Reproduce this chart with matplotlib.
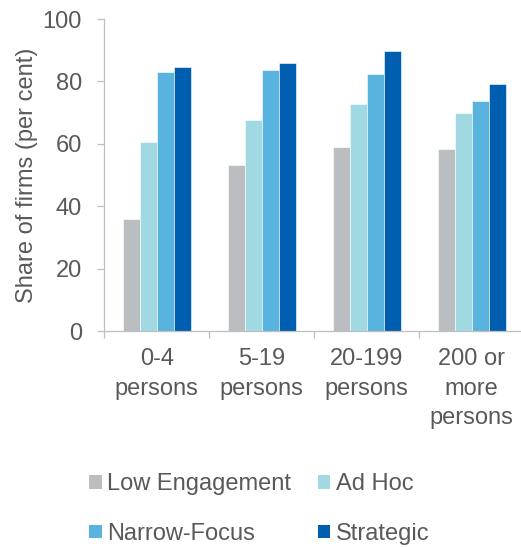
import matplotlib
matplotlib.use("Agg")
import matplotlib.pyplot as plt
from matplotlib.patches import Patch
import numpy as np

plt.rcParams['font.family'] = ['Liberation Sans', 'DejaVu Sans']

categories = ["0-4\npersons", "5-19\npersons", "20-199\npersons", "200 or\nmore\npersons"]
series_names = ["Low Engagement", "Ad Hoc", "Narrow-Focus", "Strategic"]
low_engagement = [35.9, 53.4, 59.0, 58.4]
ad_hoc = [60.6, 67.6, 72.9, 70.0]
narrow_focus = [83.1, 83.8, 82.5, 73.9]
strategic = [84.7, 86.0, 89.8, 79.3]
y_ticks = [0, 20, 40, 60, 80, 100]

colors = ["#BBBEC1", "#A0D9E1", "#58B3DF", "#005EB0"]
text_color = "#595959"
axis_color = "#BFBFBF"
fs = 17

fig = plt.figure(figsize=(5.21, 5.47), dpi=100)
ax = fig.add_axes([104.3 / 521, 215.7 / 547, 420 / 521, 312.3 / 547])

x = np.arange(len(categories))
w = 17 / 105
all_series = [low_engagement, ad_hoc, narrow_focus, strategic]
for i, (vals, col) in enumerate(zip(all_series, colors)):
    ax.bar(x + (i - 1.5) * w, vals, width=w, color=col,
           edgecolor="white", linewidth=0.4, zorder=2)

ax.set_xlim(-0.5, len(categories) - 0.5)
ax.set_ylim(0, 100)
ax.set_yticks(y_ticks)
ax.set_yticklabels([str(t) for t in y_ticks])

# category boundaries as tick marks, labels centred on minor ticks
ax.set_xticks(np.arange(-0.5, len(categories), 1.0))
ax.set_xticklabels([])
ax.set_xticks(x, minor=True)
ax.set_xticklabels(categories, minor=True, fontsize=fs, color=text_color,
                   linespacing=1.45, va="top")
ax.tick_params(axis="x", which="major", length=5, width=0.9, color=axis_color)
ax.tick_params(axis="x", which="minor", length=0, pad=12)
ax.tick_params(axis="y", length=5, width=0.9, color=axis_color, pad=11,
               labelsize=fs, labelcolor=text_color)

for side in ["top", "right"]:
    ax.spines[side].set_visible(False)
for side in ["left", "bottom"]:
    ax.spines[side].set_color(axis_color)
    ax.spines[side].set_linewidth(0.9)

ax.set_ylabel("Share of firms (per cent)", fontsize=fs, color=text_color)
ax.yaxis.set_label_coords(-(104.3 - 38) / 420, 0.5)

# legend filled row by row: (Low Engagement, Ad Hoc) / (Narrow-Focus, Strategic)
order = [0, 2, 1, 3]
handles = [Patch(facecolor=colors[k], edgecolor="none") for k in order]
labels = [series_names[k] for k in order]
fig.legend(handles, labels, ncol=2, frameon=False, fontsize=fs,
           labelcolor=text_color, loc="upper left",
           bbox_to_anchor=(89 / 521, 1 - 473 / 547), borderaxespad=0,
           borderpad=0, handlelength=0.53, handleheight=0.53,
           handletextpad=0.22, columnspacing=1.15, labelspacing=1.18)

fig.savefig("out.png", dpi=100)
